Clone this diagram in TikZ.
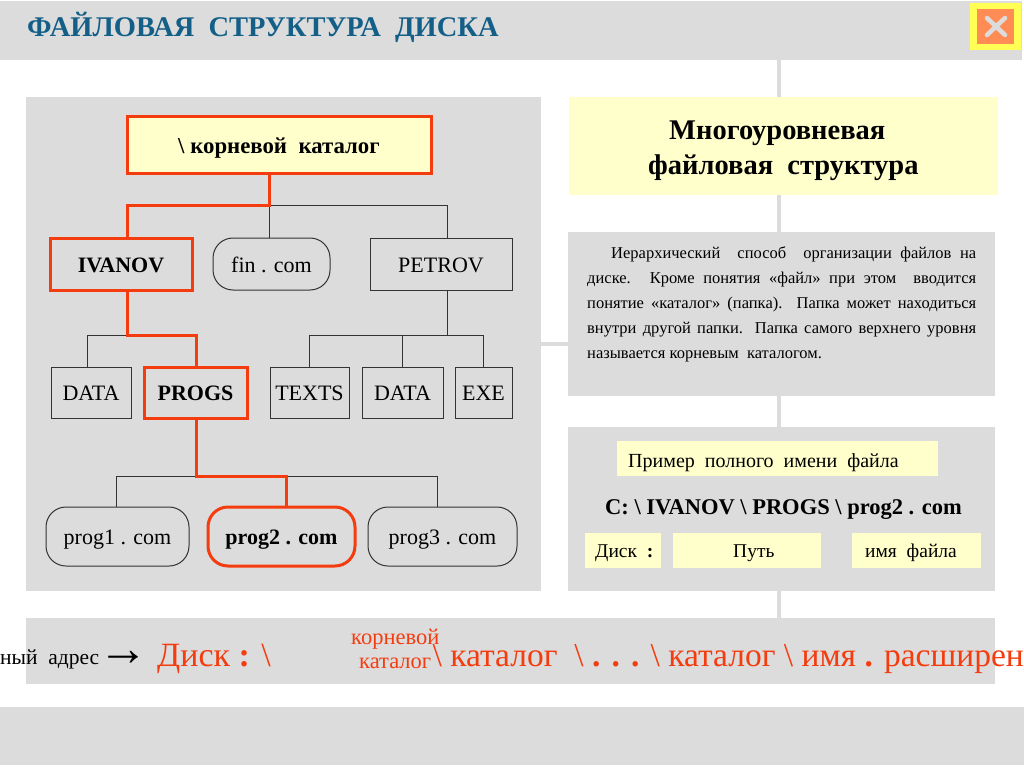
\documentclass[tikz,border=0pt]{standalone}
\usepackage{fontspec}
\setmainfont{Liberation Serif}
\usepackage{xcolor}
\usetikzlibrary{calc}
\definecolor{panelgray}{RGB}{220,220,220}
\definecolor{paleyellow}{RGB}{255,255,204}
\definecolor{hotred}{RGB}{244,60,15}
\definecolor{titleblue}{RGB}{20,95,135}
\definecolor{btnyellow}{RGB}{255,255,85}
\definecolor{btnorange}{RGB}{255,140,85}
\newcommand{\fs}[1]{\fontsize{#1}{#1}\selectfont}

\begin{document}
\begin{tikzpicture}[x=1pt, y=-1pt, every node/.style={font=\fs{22}, inner sep=0pt},
    panel/.style={fill=panelgray, draw=none},
    treebox/.style={text height=16.5pt, text depth=0pt},
    dirbox/.style={treebox, draw=black!80, line width=1pt},
    filebox/.style={treebox, draw=black!80, line width=1pt, rounded corners=20pt},
    hotbox/.style={treebox, draw=hotred, line width=3pt, font=\fs{22}\bfseries},
    thinline/.style={draw=black!80, line width=1pt},
    hotline/.style={draw=hotred, line width=3pt},
    hottext/.style={text=hotred, anchor=base west}]
  \useasboundingbox (0,0) rectangle (1024,767);
  \fill[white] (0,0) rectangle (1024,767);
  \draw[panelgray, line width=4pt] (779,60) -- (779,618);
  \draw[panelgray, line width=4pt] (541,344) -- (568,344);
  \fill[panel] (0,1) rectangle (1022,60);
  \fill[panel] (0,707) rectangle (1024,765);
  \fill[panel] (26,97) rectangle (541,591);
  \fill[panelgray] (568,232) rectangle (995,396);
  \fill[panelgray] (568,427) rectangle (995,591);
  \fill[panelgray] (26,618) rectangle (995,684);
  \node[anchor=base west, text=titleblue, font=\fs{28.5}\bfseries] (title) at (27,37) {ФАЙЛОВАЯ\ \ СТРУКТУРА\ \ ДИСКА};
  % close button
  \fill[btnyellow] (970,3) rectangle (1021,50);
  \fill[btnorange] (977,9) rectangle (1014,44);
  \draw[panelgray, line width=4.5pt, line cap=round] (987,18) -- (1005,35);
  \draw[panelgray, line width=4.5pt, line cap=round] (1005,18) -- (987,35);
  % tree
  \coordinate (b1) at (269,206);
  \coordinate (b2) at (127,335);
  \coordinate (b3) at (447,335);
  \coordinate (b4) at (196,476);
  \coordinate (b5) at (286,476);
  \node[hotbox, fill=paleyellow, minimum width=304pt, minimum height=57pt, font=\fs{22.8}\bfseries, text height=17pt] (root) at (279,145.5) {\textbackslash\ корневой\ \ каталог};
  \node[hotbox, minimum width=142pt, minimum height=52pt] (ivanov) at (121,264) {IVANOV};
  \node[filebox, minimum width=117pt, minimum height=52pt] (fin) at (271.5,264) {fin . com};
  \node[dirbox, minimum width=142pt, minimum height=52pt] (petrov) at (441,264) {PETROV};
  \node[dirbox, minimum width=80pt, minimum height=51pt] (data1) at (91,392.5) {DATA};
  \node[hotbox, minimum width=103pt, minimum height=51pt] (progs) at (195.5,392.5) {PROGS};
  \node[dirbox, minimum width=79pt, minimum height=51pt] (texts) at (309.5,392.5) {TEXTS};
  \node[dirbox, minimum width=81pt, minimum height=51pt] (data2) at (402.5,392.5) {DATA};
  \node[dirbox, minimum width=57pt, minimum height=51pt] (exe) at (483.5,392.5) {EXE};
  \node[filebox, minimum width=143pt, minimum height=59pt] (prog1) at (117.5,536.5) {prog1 . com};
  \node[hotbox, rounded corners=20pt, minimum width=147pt, minimum height=59pt] (prog2) at (281.5,536.5) {prog2 . com};
  \node[filebox, minimum width=149pt, minimum height=59pt] (prog3) at (442.5,536.5) {prog3 . com};
  \draw[thinline] (b1) -| (petrov.north -| b3);
  \draw[thinline] (b1) -- (fin.north -| b1);
  \draw[thinline] (petrov.south -| b3) -- (b3);
  \draw[thinline] (b2) -| (data1.north -| 87,0);
  \draw[thinline] (texts.north) |- (b3);
  \draw[thinline] (data2.north) |- (b3);
  \draw[thinline] (exe.north) |- (b3);
  \draw[thinline] (b4) -| (prog1.north -| 116,0);
  \draw[thinline] (b5) -| (prog3.north -| 437,0);
  \draw[hotline] (root.south -| b1) -- (b1) -| (ivanov.north -| b2);
  \draw[hotline] (ivanov.south -| b2) -- (b2) -| (progs.north -| b4);
  \draw[hotline] (progs.south -| b4) -- (b4) -| (prog2.north -| b5);
  % right side
  \fill[paleyellow] (569,97) rectangle (998,195);
  \node[anchor=base west, font=\fs{28.5}\bfseries] (head1) at (669,140) {Многоуровневая};
  \node[anchor=base west, font=\fs{28.5}\bfseries] (head2) at (648,175) {файловая\ \ структура};
  \node[anchor=north west, text width=389pt, align=justify, font=\fontsize{16.5}{25}\selectfont] (about) at (587,246) {\hspace*{24pt}Иерархический\ \ способ\ \ организации файлов на\linebreak диске. Кроме понятия «файл» при этом\ \ вводится\linebreak понятие «каталог» (папка). Папка может находиться\linebreak внутри другой папки. Папка самого верхнего уровня\linebreak называется корневым\ \ каталогом.};
  \fill[paleyellow] (617,441) rectangle (938,476);
  \node[anchor=base west, font=\fs{20}] (sample) at (628,467) {Пример\ \ полного\ \ имени\ \ файла};
  \node[anchor=base, font=\fs{22.5}\bfseries] (fullname) at (783.5,514) {C: \textbackslash\ IVANOV \textbackslash\ PROGS \textbackslash\ prog2 . com};
  \fill[paleyellow] (585,533) rectangle (661,568);
  \fill[paleyellow] (673,533) rectangle (821,568);
  \fill[paleyellow] (852,533) rectangle (981,568);
  \node[anchor=base west, font=\fs{19.5}] (disk) at (595,557) {Диск\ \ \textbf{:}};
  \node[anchor=base west, font=\fs{19.5}] (path) at (733,557) {Путь};
  \node[anchor=base west, font=\fs{19.5}] (fname) at (865,557) {имя\ \ файла};
  % bottom line
  \node[anchor=base west, font=\fs{21.5}] (addr) at (0,664) {ный\ \ адрес};
  \node[anchor=base west, font=\fs{50}] (arrow) at (98,665) {→};
  \node[hottext, font=\fs{34}] (drive) at (157,666) {Диск \textbf{:} \textbackslash};
  \node[hottext, font=\fs{22.5}] (rootA) at (351,644) {корневой};
  \node[hottext, font=\fs{22.5}] (rootB) at (359,668) {каталог};
  \node[hottext, font=\fs{33.5}, anchor=base east] (rest) at (1024,666) {\textbackslash\ каталог\ \ \textbackslash\ \textbf{. . .} \textbackslash\ каталог \textbackslash\ имя \textbf{.} расширен};
\end{tikzpicture}
\end{document}
